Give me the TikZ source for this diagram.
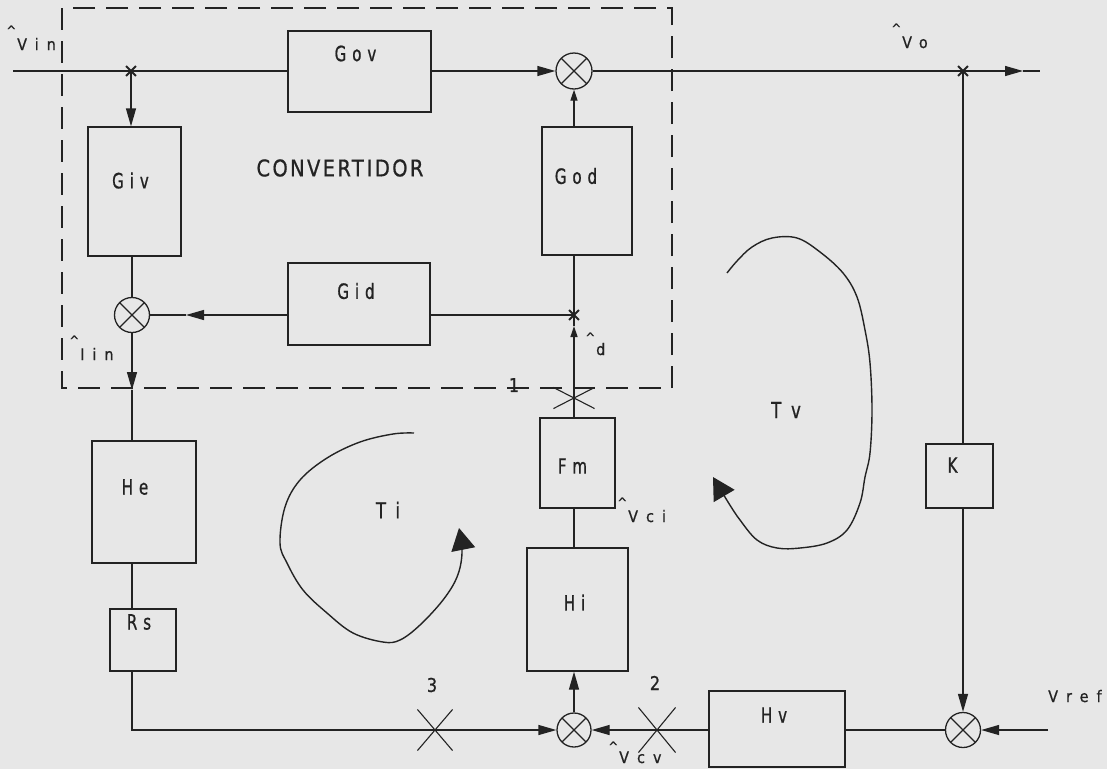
\documentclass[tikz,border=0pt]{standalone}
\usepackage{fontspec}
\setmainfont{DejaVu Sans}
\usetikzlibrary{arrows.meta,shapes.misc}
\newfontfamily\sigf[FakeStretch=0.9,LetterSpace=50,FakeBold=0.8]{DejaVu Sans}
\newfontfamily\boxf[FakeStretch=0.72,LetterSpace=28,FakeBold=0.8]{DejaVu Sans}
\newfontfamily\convf[FakeStretch=0.85,LetterSpace=10,FakeBold=0.6]{DejaVu Sans}
\newfontfamily\numf[FakeStretch=0.85,FakeBold=0.8]{DejaVu Sans}
\newfontfamily\loopf[FakeStretch=0.75,LetterSpace=45,FakeBold=0.8]{DejaVu Sans}
\definecolor{bg}{RGB}{231,231,231}
\definecolor{ink}{RGB}{35,35,35}
\newcommand{\hatmk}[1][15pt]{\makebox[0pt][r]{\raisebox{#1}{\fontsize{13}{13}\selectfont\textasciicircum}\kern1pt}}
\tikzset{
  ln/.style={draw=ink, line width=1.3pt},
  blk/.style={draw=ink, line width=1.3pt, rectangle, inner sep=0pt},
  summ/.style={circle, draw=ink, line width=1.3pt, inner sep=0pt,
    path picture={\draw[ink, line width=1.3pt]
      (path picture bounding box.north west) -- (path picture bounding box.south east)
      (path picture bounding box.north east) -- (path picture bounding box.south west);}},
  arr/.style={-{Triangle[length=18pt,width=10pt]}},
  sarr/.style={-{Triangle[length=11pt,width=7pt]}},
  loopar/.style={-{Triangle[length=22pt,width=24pt]}},
  sig/.style={inner sep=0pt, anchor=base west, font=\sigf\fontsize{16}{16}\selectfont, text=ink},
  boxl/.style={inner sep=0pt, font=\boxf\fontsize{21}{21}\selectfont, text=ink},
  numl/.style={inner sep=0pt, font=\numf\fontsize{19}{19}\selectfont, text=ink},
  loopl/.style={inner sep=0pt, font=\loopf\fontsize{22}{22}\selectfont, text=ink},
  convl/.style={inner sep=0pt, font=\convf\fontsize{23}{23}\selectfont, text=ink},
  jx/.style={cross out, draw=ink, line width=1.8pt, minimum size=8pt, inner sep=0pt},
  brk/.style={cross out, draw=ink, line width=1.1pt, inner sep=0pt},
}
\begin{document}
\begin{tikzpicture}[x=1pt,y=-1pt]
\useasboundingbox (0,0) rectangle (1107,769);
\fill[bg] (0,0) rectangle (1107,769);

% converter frame
\draw[ln, line width=1.2pt, dash pattern=on 22pt off 11pt] (62,8) rectangle (672,388);

% blocks
\node[blk, minimum width=143pt, minimum height=81pt, label={[boxl,xshift=-4pt,yshift=18pt]center:Gov}] (gov) at (359.5,71.5) {};
\node[blk, minimum width=93pt, minimum height=129pt, label={[boxl,xshift=-4pt,yshift=11pt]center:Giv}] (giv) at (134.5,191.5) {};
\node[blk, minimum width=90pt, minimum height=128pt, label={[boxl,xshift=-11pt,yshift=15pt]center:God}] (god) at (587,191) {};
\node[blk, minimum width=142pt, minimum height=82pt, label={[boxl,xshift=-3pt,yshift=13pt]center:Gid}] (gid) at (359,304) {};
\node[blk, minimum width=104pt, minimum height=122pt, label={[boxl,xshift=-9pt,yshift=15pt]center:He}] (he) at (144,502) {};
\node[blk, minimum width=66pt, minimum height=62pt, label={[boxl,xshift=-4pt,yshift=18pt]center:Rs}] (rs) at (143,640) {};
\node[blk, minimum width=75pt, minimum height=90pt, label={[boxl,xshift=-5pt,yshift=-3pt]center:Fm}] (fm) at (577.5,463) {};
\node[blk, minimum width=101pt, minimum height=123pt, label={[boxl,xshift=-3pt,yshift=7pt]center:Hi}] (hi) at (577.5,609.5) {};
\node[blk, minimum width=136pt, minimum height=76pt, label={[boxl,xshift=-3pt,yshift=14pt]center:Hv}] (hv) at (777,729) {};
\node[blk, minimum width=67pt, minimum height=64pt, label={[boxl,xshift=-7pt,yshift=11pt]center:K}] (k) at (959.5,476) {};

% summing junctions
\node[summ, minimum size=36pt] (s1) at (574,71) {};
\node[summ, minimum size=35pt] (s2) at (132,315) {};
\node[summ, minimum size=34pt] (s3) at (574,730) {};
\node[summ, minimum size=35pt] (s4) at (963,730) {};

% branch points
\node[jx] (j1) at (131,71) {};
\node[jx] (j2) at (963,71) {};
\node[jx] (j3) at (574,315) {};

% loop break marks
\node[brk, minimum width=40pt, minimum height=20pt] (x1) at (574,398) {};
\node[brk, minimum width=36pt, minimum height=44pt] (x2) at (657,730) {};
\node[brk, minimum width=34pt, minimum height=40pt] (x3) at (435,730) {};

% free ends
\coordinate (vin0) at (13,71);
\coordinate (oarr) at (1023,71);
\coordinate (oend) at (1040,71);
\coordinate (garr) at (186,315);
\coordinate (darr) at (574,326);
\coordinate (iarr) at (132,390);
\coordinate (bl) at (132,730);
\coordinate (vr) at (1048,730);

% connectors
\draw[ln] (vin0) -- (vin0 -| gov.west);
\draw[ln,arr] (j1.center) -- (j1 |- giv.north);
\draw[ln,arr] (gov.east |- s1) -- (s1.west);
\draw[ln,sarr] (s1 |- god.north) -- (s1.south);
\draw[ln,arr] (s1.east) -- (oarr);
\draw[ln] (oarr) -- (oend);
\draw[ln] (j2.center) -- (j2 |- k.north);
\draw[ln,arr] (j2 |- k.south) -- (s4.north);
\draw[ln] (s2 |- giv.south) -- (s2.north);
\draw[ln] (s1 |- god.south) -- (j3.center);
\draw[ln] (j3.center) -- (j3 -| gid.east);
\draw[ln,arr] (gid.west |- s2) -- (garr);
\draw[ln] (garr) -- (s2.east);
\draw[ln,sarr] (j3 |- fm.north) -- (darr);
\draw[ln] (darr) -- (j3.center);
\draw[ln,arr] (s2.south) -- (iarr);
\draw[ln] (iarr) -- (s2 |- he.north);
\draw[ln] (s2 |- he.south) -- (s2 |- rs.north);
\draw[ln,arr] (s2 |- rs.south) -- (bl) -- (s3.west);
\draw[ln] (s3 |- fm.south) -- (s3 |- hi.north);
\draw[ln,arr] (s3.north) -- (s3 |- hi.south);
\draw[ln,arr] (hv.west |- s3) -- (s3.east);
\draw[ln] (s4.west) -- (hv.east |- s4);
\draw[ln,arr] (vr) -- (s4.east);

% loop gain arrows
\draw[ln, line width=1.4pt, loopar] plot[smooth, tension=0.6] coordinates {(414,433) (393,434) (360,442) (327,458) (300,480) (285,507) (280,543) (287,563) (303,590) (327,613) (353,633) (383,642) (400,640) (420,625) (443,600) (457,577) (462,553) (459,528)};
\draw[ln, line width=1.4pt, loopar] plot[smooth, tension=0.6] coordinates {(727,273) (737,261) (752,247) (772,238) (797,238) (820,252) (843,273) (857,297) (865,330) (870,363) (872,410) (870,453) (865,477) (860,503) (847,530) (827,543) (800,548) (777,548) (757,540) (740,520) (728,502) (713,477)};

% texts
\node[convl] (conv) at (340,168) {CONVERT\kern3pt IDOR};
\node[sig] (lvin) at (17,50) {\hatmk Vin};
\node[sig] (lvo) at (902,48) {\hatmk Vo};
\node[sig] (liin) at (80,360) {\hatmk Iin};
\node[sig] (ld) at (596,355) {\hatmk[13pt]d};
\node[sig] (lvci) at (628,522) {\hatmk Vci};
\node[sig] (lvcv) at (619,763) {\hatmk[12pt]Vcv};
\node[sig] (lvref) at (1048,702) {Vref};
\node[numl] (n1) at (514,385) {1};
\node[numl] (n2) at (655,683) {2};
\node[numl] (n3) at (432,685) {3};
\node[loopl] (lti) at (388,510) {Ti};
\node[loopl] (ltv) at (786,410) {Tv};
\end{tikzpicture}
\end{document}
